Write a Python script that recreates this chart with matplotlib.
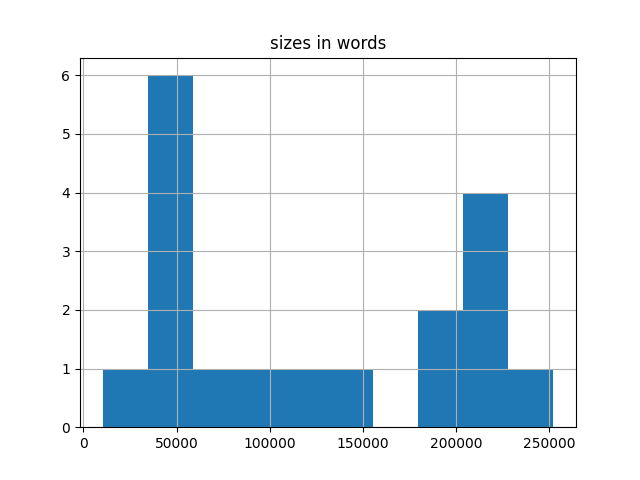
import pandas as pd
import matplotlib
matplotlib.use("Agg")
import matplotlib.pyplot as plt

# word counts (estimated from the reference histogram)
sizes = [10300, 38000, 42000, 45000, 50000, 53000, 56000, 65000, 90000,
         115000, 140000, 185000, 195000, 205000, 210000, 215000, 222000, 252250]

df = pd.DataFrame({"sizes in words": sizes})

fig, ax = plt.subplots(figsize=(6.4, 4.8), dpi=100)
df.hist(column="sizes in words", bins=10, ax=ax)
fig.savefig("out.png")
